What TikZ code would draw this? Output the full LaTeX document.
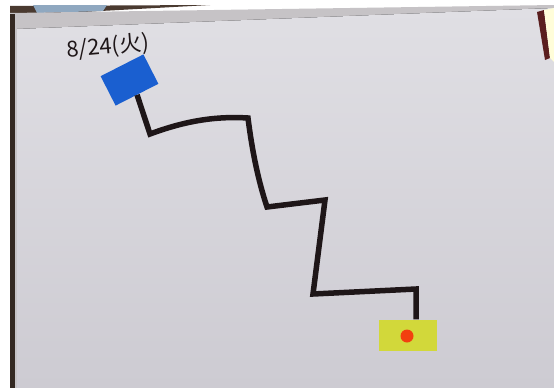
\documentclass[tikz,border=0pt]{standalone}
\usepackage{fontspec}
\newfontfamily\jpfont{Noto Sans CJK JP}
\begin{document}
\begin{tikzpicture}[x=1pt,y=-1pt,
  board/.style={top color=boardtop,bottom color=boardbot},
  pathline/.style={draw=inkc,line width=5.5pt,line join=miter},
  bluebox/.style={fill=bluec,minimum width=48pt,minimum height=33pt,inner sep=0pt},
  yellowbox/.style={fill=yellowc,minimum width=58pt,minimum height=31pt,inner sep=0pt},
  reddot/.style={circle,fill=redc,minimum size=13pt,inner sep=0pt},
  datelabel/.style={font=\jpfont\fontsize{22}{24}\selectfont,text=inkc,inner sep=0pt}]
\definecolor{boardtop}{HTML}{E0DFE4}
\definecolor{boardbot}{HTML}{CDCBD2}
\definecolor{framec}{HTML}{C6C3C6}
\definecolor{woodc}{HTML}{4A3A30}
\definecolor{tabc}{HTML}{8FA8C0}
\definecolor{inkc}{HTML}{1E1618}
\definecolor{bluec}{HTML}{1A5FD0}
\definecolor{yellowc}{HTML}{D2D83A}
\definecolor{redc}{HTML}{F2400F}
\definecolor{objc}{HTML}{5A1E1E}
\useasboundingbox (0,0) rectangle (554,388);
% surroundings
\fill[white] (0,0) rectangle (554,388);
\fill[woodc] (10,6) -- (210,5) -- (10,16) -- cycle;
\fill[tabc] (33,5) -- (107,5) -- (103,11) -- (37,13) -- cycle;
\fill[framec] (10,13) -- (554,5) -- (554,388) -- (10,388) -- cycle;
\fill[board] (17,29) -- (554,8) -- (554,388) -- (17,388) -- cycle;
\fill[woodc!70!black] (10,14) rectangle (15,388);
\fill[objc] (537,12) -- (544,10) -- (550,58) -- (545,60) -- cycle;
\fill[yellow!15!white] (544,10) -- (554,8) -- (554,62) -- (550,58) -- cycle;
% content
\node[datelabel,rotate=5] (date) at (108,47) {8/24(火)};
\node[bluebox,rotate=27] (start) at (129.5,80) {};
\node[yellowbox] (goal) at (408,335) {};
\node[reddot] (dot) at (407,336) {};
\coordinate (c1) at (150,134);
\coordinate (c2) at (248,118);
\coordinate (c3) at (267,207);
\coordinate (c4) at (325,200);
\coordinate (c5) at (313,294);
\coordinate (c6) at (416,289);
\draw[pathline] (start.south) -- (c1)
  .. controls (185,121) and (215,116) .. (c2)
  .. controls (252,150) and (258,180) .. (c3)
  -- (c4) -- (c5) -- (c6) -- (goal.north -| c6);
\end{tikzpicture}
\end{document}
